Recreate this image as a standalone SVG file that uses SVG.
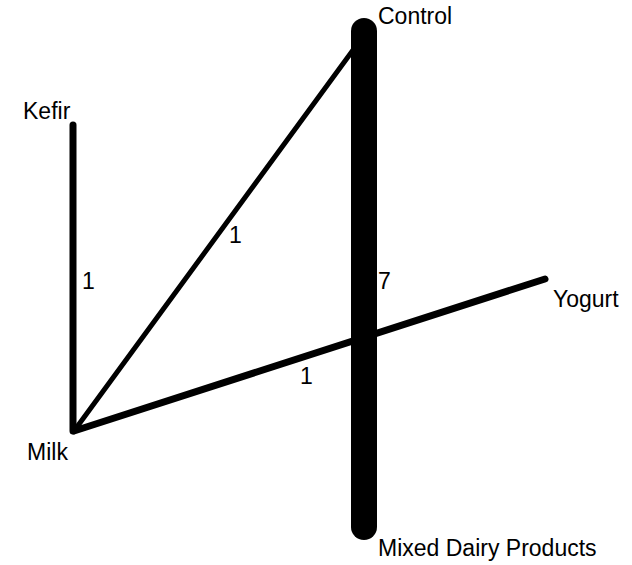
<svg xmlns="http://www.w3.org/2000/svg" width="632" height="565" viewBox="0 0 632 565">
<style>
text{font-family:"Liberation Sans",Arial,sans-serif;font-size:23px;fill:#000}
.e{stroke:#000;fill:none;stroke-linecap:round;stroke-linejoin:miter}
</style>
<rect width="632" height="565" fill="#fff"/>
<g id="connectors">
<line class="e" x1="73" y1="125" x2="73" y2="431" stroke-width="7"/>
<line class="e" x1="74" y1="431" x2="356" y2="46" stroke-width="5"/>
<line class="e" x1="74" y1="431" x2="545" y2="279" stroke-width="7"/>
<line class="e" x1="364" y1="31" x2="364" y2="527" stroke-width="26"/>
<text x="82" y="289">1</text>
<text x="229" y="243">1</text>
<text x="378" y="289">7</text>
<text x="300" y="384">1</text>
</g>
<g id="kefir"><text x="23" y="119">Kefir</text></g>
<g id="control"><text x="378" y="24">Control</text></g>
<g id="milk"><text x="27" y="460">Milk</text></g>
<g id="yogurt"><text x="553" y="307">Yogurt</text></g>
<g id="mixed"><text x="378" y="556">Mixed Dairy Products</text></g>
</svg>
